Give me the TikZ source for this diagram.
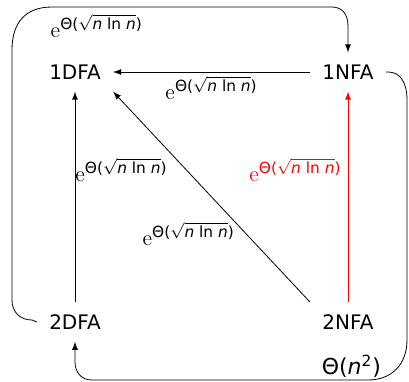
\documentclass[tikz,border=0pt]{standalone}
\usepackage{amsmath}
\usepackage{fontspec}
\setsansfont{DejaVu Sans}
\usepackage{tikz}

% e^{Theta(sqrt(n ln n))}
\newcommand{\expbound}{\textrm{e}$^{\text{Θ(}\sqrt{\text{\itshape n \upshape ln \itshape n}}\text{)}}$}

\begin{document}
\begin{tikzpicture}[x=0.5pt, y=-0.5pt, >=latex,
    every node/.style={font=\sffamily},
    fa/.style={inner sep=6pt},
    lbl/.style={inner sep=2pt, font=\sffamily\fontsize{11}{13}\selectfont}]
    \useasboundingbox (0,0) rectangle (409,382);
    % automata
    \node[fa] (d1) at (75,72) {1DFA};
    \node[fa] (n1) at (348,72) {1NFA};
    \node[fa] (d2) at (75,322) {2DFA};
    \node[fa] (n2) at (348,322) {2NFA};

    % straight conversions
    \draw[->] (n1) -- (d1) node[midway, below, lbl] {\expbound};
    \draw[->] (d2) -- (d1) node[pos=0.63, right, lbl, inner sep=0pt] {\expbound};
    \draw[->] (n2.north west) -- (d1.south east) node[pos=0.4, below left, lbl, xshift=4pt] {\expbound};
    \draw[->, red] (n2) -- (n1) node[pos=0.63, left, lbl, inner sep=3pt] {\expbound};

    % loops round the outside
    \draw[->] (d2.west) -- (32,320) .. controls (20,320) and (12,312) .. (12,300)
        -- (12,50) .. controls (12,22) and (26,7) .. (52,7)
        -- node[pos=0.16, below, lbl, inner sep=3.5pt] {\expbound} (332,7)
        .. controls (342,7) and (348,14) .. (348,26) -- (n1.north);
    \draw[->] (n1.east) -- (388,72) .. controls (400,72) and (407,82) .. (407,100)
        -- (407,340) .. controls (407,364) and (392,380) .. (368,380)
        -- node[pos=0.06, above, lbl, inner sep=1pt] {Θ(\textit{n}\textsuperscript{2})} (92,380)
        .. controls (81,380) and (75,372) .. (75,362) -- (d2.south);
\end{tikzpicture}
\end{document}
